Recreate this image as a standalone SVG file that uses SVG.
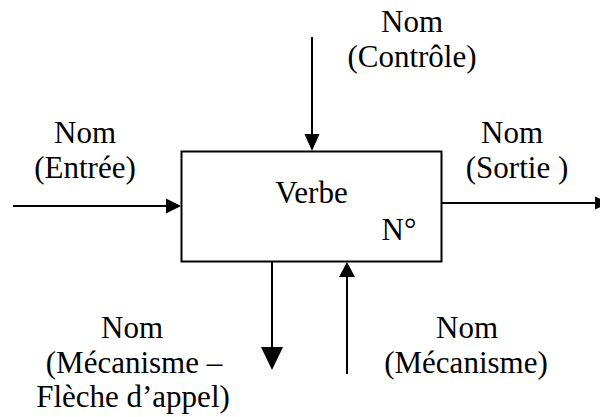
<svg xmlns="http://www.w3.org/2000/svg" width="600" height="417" viewBox="0 0 600 417">
<style>
text{font-family:"Liberation Serif","Times New Roman",serif;font-size:31px;fill:#000}
.m{text-anchor:middle}
.ln{stroke:#000;stroke-width:2;fill:none}
.ah{fill:#000;stroke:none}
</style>
<rect x="0" y="0" width="600" height="417" fill="#fff"/>
<g id="activity">
<rect x="181.5" y="151.5" width="260" height="110" fill="#fff" stroke="#000" stroke-width="2"/>
<text x="311.5" y="203" class="m">Verbe</text>
<text x="399" y="240" class="m">N°</text>
</g>
<g id="control-label">
<text x="412" y="32" class="m">Nom</text>
<text x="412" y="67" class="m">(Contrôle)</text>
</g>
<g id="input-label">
<text x="85" y="143" class="m">Nom</text>
<text x="85" y="178" class="m">(Entrée)</text>
</g>
<g id="output-label">
<text x="512" y="143" class="m">Nom</text>
<text x="517" y="178" class="m">(Sortie )</text>
</g>
<g id="call-label">
<text x="132" y="338" class="m">Nom</text>
<text x="134" y="373" class="m">(Mécanisme –</text>
<text x="133" y="407" class="m">Flèche d’appel)</text>
</g>
<g id="mechanism-label">
<text x="467" y="338" class="m">Nom</text>
<text x="466" y="373" class="m">(Mécanisme)</text>
</g>
<g id="connectors">
<line x1="13" y1="206" x2="168" y2="206" class="ln"/>
<polygon points="166,198.5 181,206 166,213.5" class="ah"/>
<line x1="442" y1="203" x2="596" y2="203" class="ln"/>
<polygon points="595,196.5 610,203 595,209.5" class="ah"/>
<line x1="312" y1="37" x2="312" y2="136" class="ln"/>
<polygon points="304.5,134 319.5,134 312,151" class="ah"/>
<line x1="272" y1="262" x2="272" y2="349" class="ln"/>
<polygon points="261,347 283,347 272,370" class="ah"/>
<line x1="347" y1="374" x2="347" y2="276" class="ln"/>
<polygon points="339,277 355,277 347,262" class="ah"/>
</g>
</svg>
